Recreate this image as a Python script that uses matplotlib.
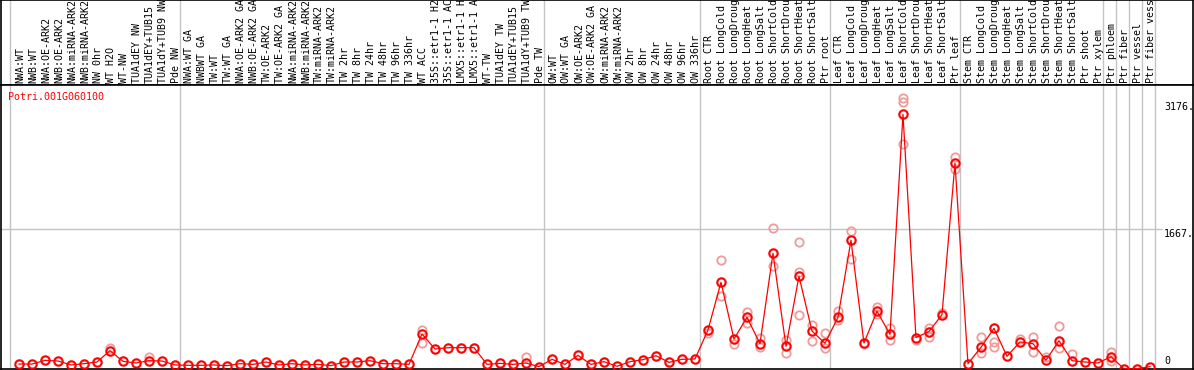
import matplotlib
matplotlib.use("Agg")
import matplotlib.pyplot as plt
from matplotlib.transforms import offset_copy

gene = "Potri.001G060100"

labels_nw = ["NWA:WT", "NWB:WT", "NWA:OE-ARK2", "NWB:OE-ARK2", "NWA:miRNA-ARK2",
             "NWB:miRNA-ARK2", "NW 0hr", "WT H2O", "WT-NW", "TUA1dEY NW",
             "TUA1dEY+TUB15", "TUA1dY+TUB9 NW", "Pde NW"]
labels_tw = ["NWA:WT GA", "NWBWT GA", "TW:WT", "TW:WT GA", "NWA:OE-ARK2 GA",
             "NWB:OE-ARK2 GA", "TW:OE-ARK2", "TW:OE-ARK2 GA", "NWA:miRNA-ARK2",
             "NWB:miRNA-ARK2", "TW:miRNA-ARK2", "TW:miRNA-ARK2", "TW 2hr", "TW 8hr",
             "TW 24hr", "TW 48hr", "TW 96hr", "TW 336hr", "WT ACC", "35S::etr1-1 H2",
             "35S::etr1-1 AC", "LMX5::etr1-1 H", "LMX5::etr1-1 A", "WT-TW",
             "TUA1dEY TW", "TUA1dEY+TUB15", "TUA1dY+TUB9 TW", "Pde TW"]
labels_ow = ["OW:WT", "OW:WT GA", "OW:OE-ARK2", "OW:OE-ARK2 GA", "OW:miRNA-ARK2",
             "OW:miRNA-ARK2", "OW 2hr", "OW 8hr", "OW 24hr", "OW 48hr", "OW 96hr",
             "OW 336hr"]
labels_root = ["Root CTR", "Root LongCold", "Root LongDroug", "Root LongHeat",
               "Root LongSalt", "Root ShortCold", "Root ShortDrou", "Root ShortHeat",
               "Root ShortSalt", "Ptr root"]
labels_leaf = ["Leaf CTR", "Leaf LongCold", "Leaf LongDroug", "Leaf LongHeat",
               "Leaf LongSalt", "Leaf ShortCold", "Leaf ShortDrou", "Leaf ShortHeat",
               "Leaf ShortSalt", "Ptr leaf"]
labels_stem = ["Stem CTR", "Stem LongCold", "Stem LongDroug", "Stem LongHeat",
               "Stem LongSalt", "Stem ShortCold", "Stem ShortDrou", "Stem ShortHeat",
               "Stem ShortSalt", "Ptr shoot", "Ptr xylem"]
labels_ptr = ["Ptr phloem", "Ptr fiber", "Ptr vessel", "Ptr fiber vess"]

mean_nw = [59, 59, 103, 95, 48, 63, 83, 218, 91, 71, 99, 95, 48]
mean_tw = [44, 44, 48, 40, 63, 55, 83, 48, 63, 48, 55, 40, 83, 83, 99, 63, 63, 55,
           416, 238, 253, 253, 253, 55, 67, 55, 71, 28]
mean_ow = [115, 55, 162, 55, 87, 32, 87, 111, 158, 79, 115, 119]
mean_root = [463, 1030, 356, 614, 301, 1374, 270, 1101, 451, 305]
mean_leaf = [614, 1529, 309, 686, 412, 3026, 374, 445, 645, 2444]
mean_stem = [63, 258, 483, 151, 321, 301, 103, 336, 99, 83, 71]
mean_ptr = [146, 3, 3, 28]

# replicate values that sit visibly away from the mean (sample index -> values)
replicates = {
    7: [255], 10: [146], 31: [463, 312], 39: [139], 53: [431],
    54: [1295, 871], 55: [297], 56: [675, 543], 57: [364, 265],
    58: [1671, 1224], 59: [186, 344], 60: [1512, 1156, 641], 61: [517, 333],
    62: [424, 246], 63: [687, 588], 64: [1643, 1303], 65: [297],
    66: [739, 659], 67: [483, 344], 68: [3216, 3176, 2679], 69: [344],
    70: [483, 377], 71: [668], 72: [2516, 2378], 74: [384, 192],
    75: [324, 258], 77: [354], 78: [384, 200], 79: [137], 80: [507, 246],
    81: [182], 84: [206, 99],
}

y_ticks = [0, 1667, 3176]
y_grid = [1667]

labels = labels_nw + labels_tw + labels_ow + labels_root + labels_leaf + labels_stem + labels_ptr
means = mean_nw + mean_tw + mean_ow + mean_root + mean_leaf + mean_stem + mean_ptr
x = list(range(len(labels)))
group_sizes = [len(labels_nw), len(labels_tw), len(labels_ow), len(labels_root),
               len(labels_leaf), len(labels_stem), 1, 1, 1, 1]

red_ = '#ff0000'
pink_ = '#f09a9a'
gray_ = '#c4c4c4'
mono = 'DejaVu Sans Mono'
font_size = 7.2
msize = 6

W, H = 1194, 370
fig = plt.figure(figsize=(W / 100, H / 100), dpi=100)

xlim = (-1.385, 90.31)
ax_head = fig.add_axes([1 / W, (H - 85) / H, 1192 / W, 85 / H])
ax = fig.add_axes([1 / W, 1 / H, 1192 / W, 284 / H])

# separators between groups
bounds = [-0.7]
pos = -1
for n in group_sizes:
    pos += n
    bounds.append(pos + 0.4)

for a in (ax_head, ax):
    a.set_xlim(*xlim)
    a.set_xticks([])
    a.set_yticks([])
    for b in bounds:
        a.axvline(b, color=gray_, lw=1.0, zorder=1)
    for s in a.spines.values():
        s.set_color('black')
        s.set_linewidth(1.2)

ax_head.set_ylim(0, 85)
for xi, lab in zip(x, labels):
    ax_head.text(xi + 0.08, 2, lab, rotation=90, ha='center', va='bottom',
                 family=mono, fontsize=font_size, color='black')

ax.set_ylim(0, 3374)
ax.hlines(y_grid, xlim[0], 87.9, color=gray_, lw=1.0, zorder=1)

# replicate circles (pink) under the means
for xi, m in zip(x, means):
    ax.plot(xi, m, 'o', ms=msize, mfc='none', mec=pink_, mew=1.8, zorder=2)
for i, vals in replicates.items():
    ax.plot([i] * len(vals), vals, 'o', ms=msize, mfc='none', mec=pink_, mew=1.3, zorder=2)

ax.plot(x, means, '-', color=red_, lw=0.9, zorder=3)
ax.plot(x, means, 'o', ms=msize, mfc='none', mec=red_, mew=1.3, zorder=4)

for v in y_ticks:
    if v == 0:
        tr = offset_copy(ax.transData, fig=fig, x=0, y=3, units='dots')
        ax.text(88.1, v, "0", transform=tr, ha='left', va='bottom',
                family=mono, fontsize=font_size)
    else:
        ax.text(88.1, v, f"{v}.", ha='left', va='top', family=mono, fontsize=font_size)

fig.text(8 / W, 1 - 97 / H, gene, color=red_, ha='left', va='center',
         family=mono, fontsize=font_size)

fig.savefig("out.png", dpi=100)
